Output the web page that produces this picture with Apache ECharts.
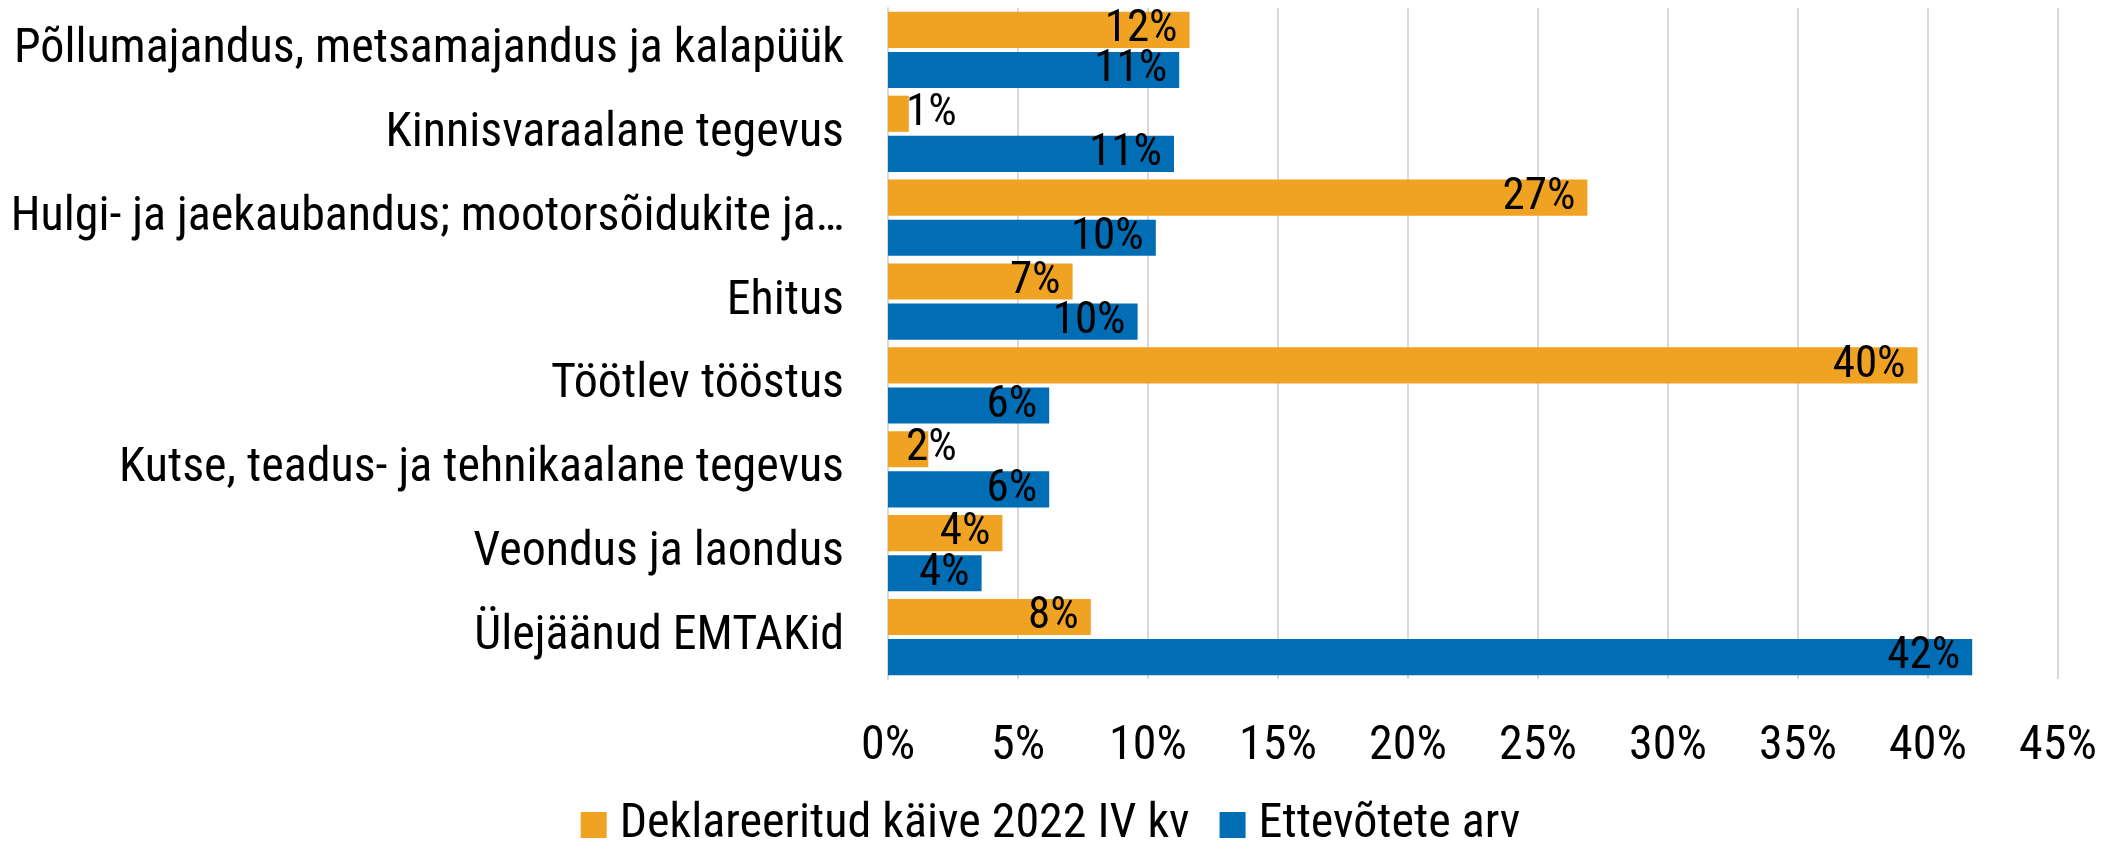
<!DOCTYPE html>
<html>
<head>
<meta charset="utf-8">
<script src="https://cdn.jsdelivr.net/npm/echarts@6/dist/echarts.min.js"></script>
<style>
  html, body { margin: 0; padding: 0; background: #fff; }
  #chart { width: 2101px; height: 842px; }
</style>
</head>
<body>
<div id="chart"></div>
<script>
// categories top to bottom
const categories = [
  'Põllumajandus, metsamajandus ja kalapüük',
  'Kinnisvaraalane tegevus',
  'Hulgi- ja jaekaubandus; mootorsõidukite ja…',
  'Ehitus',
  'Töötlev tööstus',
  'Kutse, teadus- ja tehnikaalane tegevus',
  'Veondus ja laondus',
  'Ülejäänud EMTAKid'
]
// shares in %
const kaive = [11.6, 0.8, 26.9, 7.1, 39.6, 1.55, 4.4, 7.8]
const ettevotted = [11.2, 11.0, 10.3, 9.6, 6.2, 6.2, 3.6, 41.7]
const seriesNames = ['Deklareeritud käive 2022 IV kv', 'Ettevõtete arv']

const FONT = "'Roboto Condensed', 'Liberation Sans Narrow', Roboto, sans-serif"
const ORANGE = '#F0A323'
const BLUE = '#006DB5'

const chart = echarts.init(document.getElementById('chart'))

// labels that do not fit inside the bar start near the axis instead
const toData = (arr) => arr.map(v => {
  if (v < 3) {
    return { value: v, label: { position: 'insideLeft', distance: 18 } }
  }
  return v
})

const makeSeries = (name, arr, color) => ({
  name,
  type: 'bar',
  data: toData(arr),
  barGap: '11%',
  barCategoryGap: '9%',
  itemStyle: { color },
  label: {
    show: true,
    position: 'insideRight',
    distance: 12,
    color: '#000',
    fontFamily: FONT,
    fontSize: 45,
    formatter: (p) => Math.round(p.value) + '%'
  }
})

chart.setOption({
  animation: false,
  textStyle: { fontFamily: FONT },
  legend: {
    data: seriesNames,
    bottom: -12,
    left: 'center',
    itemWidth: 26,
    itemHeight: 26,
    itemGap: 30,
    icon: 'rect',
    textStyle: { fontFamily: FONT, fontSize: 48, color: '#000', padding: [0, 0, 0, 8] }
  },
  grid: {
    left: 888,
    right: 43,
    top: 8,
    bottom: 163,
    containLabel: false,
    outerBoundsMode: 'none'
  },
  xAxis: {
    type: 'value',
    min: 0,
    max: 45,
    interval: 5,
    axisLine: { show: false },
    axisTick: { show: false },
    axisLabel: {
      margin: 44,
      color: '#000',
      fontFamily: FONT,
      fontSize: 48,
      formatter: '{value}%'
    },
    splitLine: { lineStyle: { color: '#D9D9D9', width: 2 } }
  },
  yAxis: {
    type: 'category',
    data: categories,
    inverse: true,
    axisLine: { show: true, lineStyle: { color: '#D9D9D9', width: 2 } },
    axisTick: { show: false },
    axisLabel: {
      margin: 44,
      color: '#000',
      fontFamily: FONT,
      fontSize: 48
    }
  },
  series: [
    makeSeries(seriesNames[0], kaive, ORANGE),
    makeSeries(seriesNames[1], ettevotted, BLUE)
  ]
})
</script>
</body>
</html>
